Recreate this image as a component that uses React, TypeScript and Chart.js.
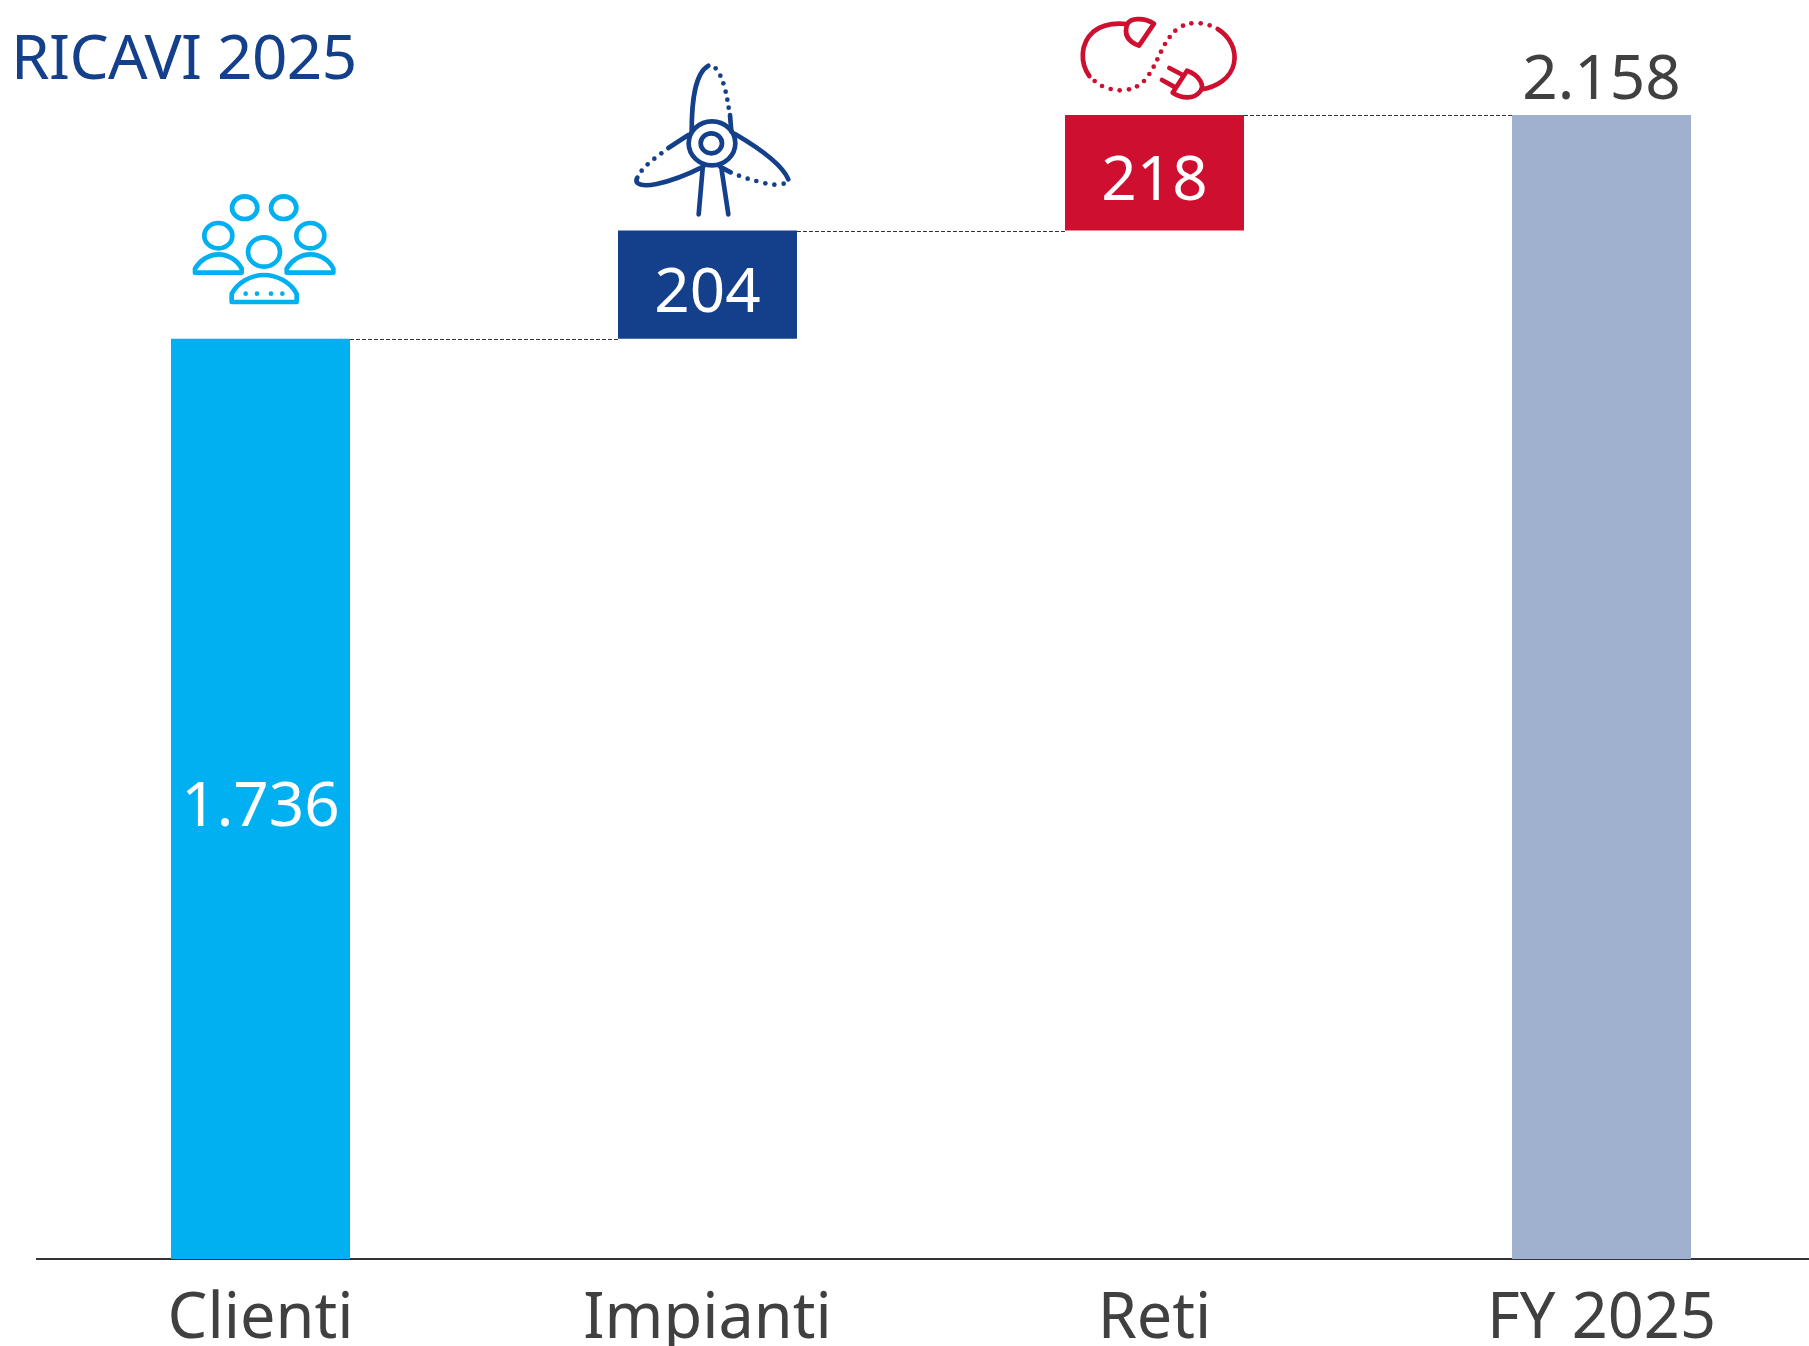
import React, { useEffect, useRef } from "react";
import { Chart, registerables } from "chart.js";

Chart.register(...registerables);

const categories = ["Clienti", "Impianti", "Reti", "FY 2025"];
const rangeStart = [0, 1736, 1940, 0];
const rangeEnd = [1736, 1940, 2158, 2158];
const valueLabels = ["1.736", "204", "218", "2.158"];
const barColors = ["#00B0F0", "#14408B", "#CF0F2F", "#9FB1CF"];
const valueLabelColors = ["#FFFFFF", "#FFFFFF", "#FFFFFF", "#404040"];
const titleText = "RICAVI 2025";

const FONT = '"Noto Sans", sans-serif';

type Icon = { x: number; y: number; color: string; lines: string[]; dots: number[][] };

const icons: Icon[] = [
  {
    x: 150, y: 170, color: "#00B0F0",
    lines: [
      "M246 113a38 34 0 1 0 76 0a38 34 0 1 0 -76 0Z",
      "M363 113a38 34 0 1 0 76 0a38 34 0 1 0 -76 0Z",
      "M163 197a42 38 0 1 0 84 0a42 38 0 1 0 -84 0Z",
      "M439 197a42 38 0 1 0 84 0a42 38 0 1 0 -84 0Z",
      "M294 246a48 44 0 1 0 96 0a48 44 0 1 0 -96 0Z",
      "M135 308L135 296C150 270 178 253 205 253C234 253 262 270 275 296L275 308Z",
      "M410 308L410 296C425 270 453 253 481 253C510 253 538 270 550 296L550 308Z",
      "M245 396L245 372C262 338 302 315 342 315C382 315 424 338 440 372L440 396Z",
    ],
    dots: [[287, 371], [321, 371], [363, 371], [397, 371]],
  },
  {
    x: 600, y: 50, color: "#14408B",
    lines: [
      "M266 280a70 66 0 1 0 140 0a70 66 0 1 0 -140 0Z",
      "M302 280a32 30 0 1 0 64 0a32 30 0 1 0 -64 0Z",
      "M275 245C275 150 285 70 325 47",
      "M390 195L394 245",
      "M405 252C470 290 545 340 565 388",
      "M392 367L360 350",
      "M205 294L265 255",
      "M112 383C100 405 130 410 170 402C220 392 270 370 310 350",
      "M308 355L296 493",
      "M365 360L385 493",
    ],
    dots: [
      [347, 55], [361, 77], [370, 100], [377, 125], [382, 149], [386, 173],
      [551, 401], [523, 404], [496, 400], [469, 393], [443, 386], [417, 377],
      [184, 310], [163, 326], [143, 343], [125, 362],
    ],
  },
  {
    x: 1040, y: 0, color: "#CF0F2F",
    lines: [
      "M148 228C120 190 120 130 160 95C190 70 225 68 262 72",
      "M262 72C270 55 310 50 342 71L297 137C265 125 250 105 262 72Z",
      "M533 87C570 110 590 150 582 190C572 235 530 262 484 268",
      "M441 212C480 225 495 260 480 275C460 300 425 295 398 278Z",
      "M388 204L428 225",
      "M366 240L406 262",
    ],
    dots: [
      [164, 243], [186, 258], [212, 267], [239, 271], [267, 268], [291, 259],
      [312, 243], [328, 222], [341, 200], [352, 178], [363, 155], [375, 132],
      [389, 111], [406, 92], [429, 77], [454, 70], [482, 70], [509, 76],
    ],
  },
];

const overlayPlugin = {
  id: "overlay",
  afterDatasetsDraw(chart: any) {
    const { ctx, scales } = chart;
    const x = scales.x;
    const y = scales.y;
    const bars = chart.getDatasetMeta(0).data;

    ctx.save();
    // connectors
    ctx.strokeStyle = "#333333";
    ctx.lineWidth = 1;
    ctx.setLineDash([4, 2]);
    for (let i = 0; i < bars.length - 1; i++) {
      const yy = Math.round(y.getPixelForValue(rangeEnd[i])) + 0.5;
      ctx.beginPath();
      ctx.moveTo(bars[i].x + bars[i].width / 2, yy);
      ctx.lineTo(bars[i + 1].x - bars[i + 1].width / 2, yy);
      ctx.stroke();
    }
    ctx.setLineDash([]);

    // value labels
    ctx.font = `62px ${FONT}`;
    ctx.textAlign = "center";
    ctx.textBaseline = "alphabetic";
    valueLabels.forEach((t, i) => {
      ctx.fillStyle = valueLabelColors[i];
      const cx = x.getPixelForValue(i);
      let by;
      if (i === 3) by = y.getPixelForValue(rangeEnd[i]) - 16;
      else by = (y.getPixelForValue(rangeStart[i]) + y.getPixelForValue(rangeEnd[i])) / 2 + 27;
      ctx.fillText(t, cx, by);
    });

    // title
    ctx.font = `62px ${FONT}`;
    ctx.textAlign = "left";
    ctx.fillStyle = "#14408B";
    ctx.letterSpacing = "-0.6px";
    ctx.fillText(titleText, 11, 79);
    ctx.letterSpacing = "0px";

    // icons
    icons.forEach((ic) => {
      ctx.save();
      ctx.translate(ic.x, ic.y);
      ctx.scale(1 / 3, 1 / 3);
      ctx.strokeStyle = ic.color;
      ctx.fillStyle = ic.color;
      ctx.lineWidth = 14;
      ctx.lineCap = "round";
      ctx.lineJoin = "round";
      ic.lines.forEach((d) => ctx.stroke(new Path2D(d)));
      ic.dots.forEach(([dx, dy]) => {
        ctx.beginPath();
        ctx.arc(dx, dy, 7, 0, Math.PI * 2);
        ctx.fill();
      });
      ctx.restore();
    });
    ctx.restore();
  },
};

export default function App() {
  const ref = useRef<HTMLCanvasElement>(null);
  useEffect(() => {
    document.body.style.margin = "0";
    const chart = new Chart(ref.current as HTMLCanvasElement, {
      type: "bar",
      data: {
        labels: categories,
        datasets: [
          {
            data: rangeStart.map((s, i) => [s, rangeEnd[i]]) as any,
            backgroundColor: barColors,
            borderWidth: 0,
            barPercentage: 0.4004,
            categoryPercentage: 1,
          },
        ],
      },
      options: {
        animation: false,
        responsive: false,
        layout: { padding: { left: 37, right: 0, top: 115, bottom: 0 } },
        plugins: { legend: { display: false }, tooltip: { enabled: false }, title: { display: false } },
        scales: {
          x: {
            type: "category",
            grid: { display: false, drawTicks: false },
            border: { display: true, color: "#333333", width: 2 },
            ticks: {
              color: "#404040",
              font: { family: FONT, size: 63 },
              padding: 23,
              maxRotation: 0,
              autoSkip: false,
            },
            afterFit(scale: any) {
              scale.height = 87;
            },
          },
          y: { display: false, min: 0, max: 2158, grid: { display: false } },
        },
      },
      plugins: [overlayPlugin],
    });
    return () => chart.destroy();
  }, []);
  return (
    <div style={{ position: "relative", width: 1809, height: 1346, overflow: "hidden", background: "#FFFFFF" }}>
      <canvas ref={ref} width={1825} height={1346} style={{ display: "block", width: 1825, height: 1346 }} />
    </div>
  );
}
